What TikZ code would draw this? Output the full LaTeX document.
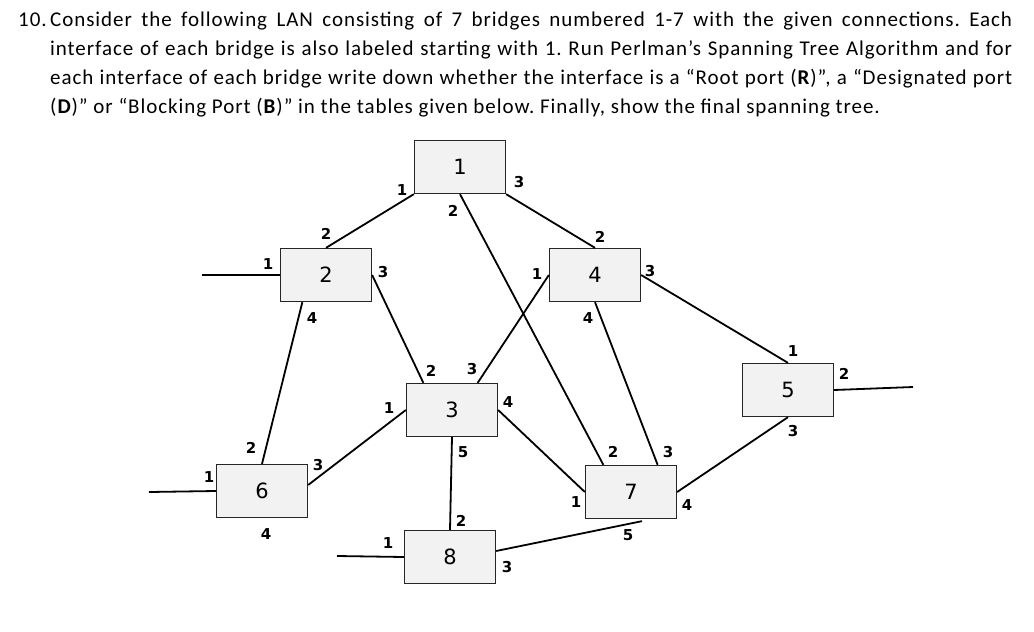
\documentclass[tikz,border=0pt]{standalone}
\usepackage{fontspec}
\setmainfont{Carlito}[LetterSpace=4.5]
\newfontfamily\brfont{DejaVu Sans}
\definecolor{boxgray}{RGB}{242,242,242}
\tikzset{
  bridge/.style={draw=black!85, line width=1.3pt, fill=boxgray, minimum width=91pt,
    minimum height=53pt, inner sep=0pt, font=\brfont\fontsize{21}{24}\selectfont},
  lab/.style={inner sep=0pt, font=\brfont\bfseries\fontsize{15}{18}\selectfont},
  lan/.style={line width=1.8pt}
}
\begin{document}
\begin{tikzpicture}[x=1pt,y=-1pt]
\useasboundingbox (0,0) rectangle (1034,632);
% question text
\node[anchor=north west, inner sep=0pt, text width=994pt, align=justify,
  font=\fontsize{21}{29}\selectfont] (quest) at (18,12)
  {\frenchspacing\hangindent=32pt\hangafter=1\noindent\makebox[32pt][l]{10.}Consider the following LAN consisting of 7 bridges numbered 1-7 with the given connections. Each\linebreak
  interface of each bridge is also labeled starting with 1. Run Perlman's Spanning Tree Algorithm and for\linebreak
  each interface of each bridge write down whether the interface is a ``Root port (\textbf{R})'', a ``Designated port\linebreak
  (\textbf{D})'' or ``Blocking Port (\textbf{B})'' in the tables given below. Finally, show the final spanning tree.\par};
% bridges
\node[bridge] (b1) at (460,167) {1};
\node[bridge] (b2) at (326,275) {2};
\node[bridge] (b3) at (452,410) {3};
\node[bridge] (b4) at (595,275) {4};
\node[bridge] (b5) at (788,390) {5};
\node[bridge] (b6) at (262,491) {6};
\node[bridge] (b7) at (631,492) {7};
\node[bridge] (b8) at (450,557) {8};
% free ends
\coordinate (e21) at (202,275);
\coordinate (e61) at (149,492);
\coordinate (e81) at (337,556);
\coordinate (e52) at (913,387);
% links
\draw[lan] (b1.south west) -- (b2.north);
\draw[lan] (b1.south) -- ([xshift=18.5pt]b7.north west);
\draw[lan] (b1.south east) -- (b4.north);
\draw[lan] (b2.west) -- (e21);
\draw[lan] (b2.east) -- ([xshift=17.5pt]b3.north west);
\draw[lan] ([xshift=22.5pt]b2.south west) -- (b6.north);
\draw[lan] (b4.west) -- ([xshift=-20.5pt]b3.north east);
\draw[lan] (b4.south) -- ([xshift=-19.5pt]b7.north east);
\draw[lan] (b4.east) -- (b5.north);
\draw[lan] (b3.west) -- ([yshift=6pt]b6.east);
\draw[lan] (b3.east) -- (b7.west);
\draw[lan] (b3.south) -- (b8.north);
\draw[lan] (b6.west) -- (e61);
\draw[lan] (b8.west) -- (e81);
\draw[lan] ([yshift=6pt]b8.east) -- ([xshift=11pt,yshift=-2pt]b7.south);
\draw[lan] (b7.east) -- (b5.south);
\draw[lan] (b5.east) -- (e52);
% interface numbers
\foreach \n/\t/\x/\y in {11/1/402/190, 12/2/453/211, 13/3/519/182,
  21/1/268/264, 22/2/326/234, 23/3/383/272, 24/4/312/318,
  31/1/389/408, 32/2/431/371, 33/3/472/369, 34/4/508/402, 35/5/463/452,
  41/1/537/274, 42/2/600/237, 43/3/650/271, 44/4/588/318,
  51/1/793/351, 52/2/844/374, 53/3/793/431,
  61/1/209/477, 62/2/251/448, 63/3/318/465, 64/4/266/534,
  71/1/576/502, 72/2/613/452, 73/3/668/452, 74/4/687/505, 75/5/628/535,
  81/1/388/543, 82/2/461/521, 83/3/507/567}
  \node[lab] (l\n) at (\x,\y) {\t};
\end{tikzpicture}
\end{document}
